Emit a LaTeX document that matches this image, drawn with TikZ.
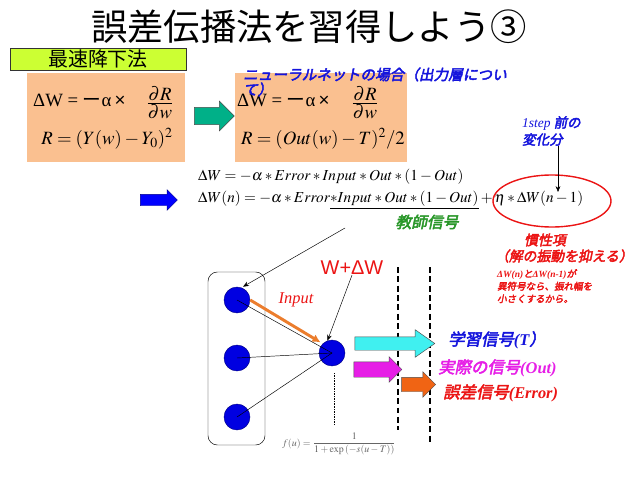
\documentclass[tikz,border=0pt]{standalone}
\usepackage{mathptmx}
\usepackage[no-math]{fontspec}
\setmainfont{Liberation Serif}
\setsansfont{Liberation Sans}
\newfontfamily\jp{Noto Sans CJK JP}
\newfontfamily\jpbi{Noto Sans CJK JP}[FakeSlant=0.2,FakeBold=3]
\usetikzlibrary{positioning,arrows.meta,shapes.arrows,shapes.geometric}
\definecolor{BoxPeach}{RGB}{250,192,144}
\definecolor{TitleLime}{RGB}{204,255,51}
\definecolor{ArrowTeal}{RGB}{0,176,136}
\definecolor{NoteBlue}{RGB}{20,20,220}
\definecolor{NoteRed}{RGB}{235,20,20}
\definecolor{NoteGreen}{RGB}{40,150,40}
\definecolor{NoteMagenta}{RGB}{230,30,230}
\definecolor{SigCyan}{RGB}{64,240,240}
\definecolor{SigOrange}{RGB}{240,100,20}
\definecolor{InputOrange}{RGB}{235,125,45}
\definecolor{NeuronBlue}{RGB}{0,0,225}

\begin{document}
\begin{tikzpicture}[
    x=0.03cm,
    y=-0.03cm,
    >={Stealth[length=5pt,width=4pt]},
    eqbox/.style={
        fill=BoxPeach,
        minimum height=2.67cm,
        inner sep=0pt
    },
    eq/.style={
        font=\fontsize{16}{19}\selectfont,
        inner sep=0pt
    },
    blockarrow/.style={
        single arrow,
        draw=black!70,
        inner xsep=0pt
    },
    neuron/.style={
        circle,
        draw=NeuronBlue!60!black,
        fill=NeuronBlue,
        minimum size=0.78cm,
        inner sep=0pt
    },
    guide/.style={
        line width=1.1pt,
        dash pattern=on 5pt off 3pt
    },
    note/.style={
        font=\jpbi\fontsize{11.8}{12}\selectfont,
        text=NoteRed,
        inner sep=0pt
    },
    signal/.style={
        font=\fontsize{14}{16}\selectfont,
        anchor=west,
        inner sep=0pt
    }
]
\useasboundingbox (0,0) rectangle (638,479);

% title
\node[font=\jp\fontsize{31}{34}\selectfont] (title) at (309,27) {誤差伝播法を習得しよう③};

\node[draw=black!80, fill=TitleLime, minimum width=5.28cm, minimum height=0.66cm, inner sep=0pt,
      font=\jp\fontsize{17}{17}\selectfont] (sdlabel) at (98,59) {最速降下法};

% formula boxes
\node[eqbox, minimum width=4.74cm] (box1) at (106,117.5) {};
\node[eqbox, minimum width=5.16cm] (box2) at (321,117.5) {};

\node[eq, anchor=west] (dw1) at (33,100) {ΔW = {\jp ー}α\,{\sffamily ×}};
\node[eq] (frac1) at (160,103) {$\frac{\textstyle\partial R}{\textstyle\partial w}$};
\node[eq] (rdef1) at (107,139) {$R=(Y(w)-Y_0)^2$};

\node[eq, anchor=west] (dw2) at (237,100) {ΔW = {\jp ー}α\,{\sffamily ×}};
\node[eq] (frac2) at (365,103) {$\frac{\textstyle\partial R}{\textstyle\partial w}$};
\node[eq] (rdef2) at (323,139) {$R=(Out(w)-T)^2/2$};

\node[blockarrow, fill=ArrowTeal, minimum height=1.2cm, inner ysep=0.25cm,
      single arrow head extend=0.19cm] (toNN) at (210,116) {};

\node[font=\jpbi\fontsize{12.5}{12.8}\selectfont, text=NoteBlue, align=left, anchor=base west,
      inner sep=0pt] (nnhead) at (243,95) {ニューラルネットの場合（出力層につい\\て）};

% update rules
\node[font=\fontsize{13}{15}\selectfont, anchor=west, inner sep=0pt] (upd1) at (198,177)
    {$\Delta W=-\alpha\ast Error\ast Input\ast Out\ast\left(1-Out\right)$};
\node[font=\fontsize{13}{15}\selectfont, anchor=west, inner sep=0pt] (upd2) at (198,200)
    {$\Delta W(n)=-\alpha\ast Error\underline{\ast Input\ast Out\ast\left(1-Out\right)}+\eta\ast\Delta W(n-1)$};

\node[blockarrow, fill=blue, draw=blue!55!black, minimum height=1.11cm, inner ysep=0.165cm,
      single arrow head extend=0.135cm] (toRule) at (156,200) {};

\node[font=\jpbi\fontsize{13.4}{14}\selectfont, text=NoteGreen, inner sep=0pt] (teacher) at (427,222) {教師信号};

% inertia term
\node[ellipse, draw=NoteRed, line width=1.2pt, minimum width=3.54cm, minimum height=1.56cm] (inertia) at (552,201) {};

\node[font=\jpbi\fontsize{11.5}{14.5}\selectfont, text=NoteBlue, align=left, anchor=west,
      inner sep=0pt] (prevstep) at (522,131) {{\rmfamily\itshape 1step} 前の\\変化分};
\coordinate (etaTip) at (558,192);
\draw[->] (prevstep.south -| etaTip) -- (etaTip);

\node[note] (inertlabel) at (545,240) {慣性項};
\node[note] (damp) at (564,256) {（解の振動を抑える）};
\node[note, font=\jpbi\fontsize{8.1}{10.7}\selectfont, align=left, anchor=north west] (dampnote) at (497,269)
    {{\rmfamily\bfseries\itshape ΔW(n)}と{\rmfamily\bfseries\itshape ΔW(n-1)}が\\異符号なら、振れ幅を\\小さくするから。};

% network
\node[neuron] (in1) at (237,300) {};
\node[neuron] (in2) at (237,358) {};
\node[neuron] (in3) at (237,417) {};
\node[draw, rounded corners=8pt, minimum width=1.71cm, minimum height=5.19cm] (inlayer) at (236.5,358.5) {};
\node[neuron] (out) at (332,353) {};

\draw (in1.center) -- (out.center);
\draw (in2.center) -- (out.center);
\draw (in3.center) -- (out.center);

\node[text=NoteRed, font=\rmfamily\itshape\fontsize{14}{14}\selectfont] (inlabel) at (296,300) {Input};
\draw[InputOrange, line width=2.5pt, -{Latex[length=7pt,width=7pt]}, shorten >=2pt] (in1.east) -- (out.north west);

\node[text=NoteRed, font=\sffamily\fontsize{17}{17}\selectfont, inner sep=0pt] (wdw) at (352,268) {W+ΔW};
\draw[->] (wdw.south) -- (out.110);

\coordinate (teachStart) at (345,228);
\draw[->, shorten >=1.5pt] (teachStart) -- (in1.70);

\draw[densely dotted] (334,373) -- (334,425);
\draw[guide] (398,267) -- (398,430);
\draw[guide] (430,267) -- (430,445);

% signals
\node[blockarrow, fill=SigCyan, minimum height=2.4cm, inner ysep=0.195cm,
      single arrow head extend=0.21cm, single arrow tip angle=70] (sigT) at (390,343.5) {};
\node[blockarrow, fill=NoteMagenta, minimum height=1.44cm, inner ysep=0.225cm,
      single arrow head extend=0.15cm] (sigOut) at (374,369.5) {};
\node[blockarrow, fill=SigOrange, minimum height=1.02cm, inner ysep=0.21cm,
      single arrow head extend=0.165cm] (sigErr) at (415,384.5) {};

\node[signal, text=NoteBlue] (lblT) at (448,340) {{\jpbi 学習信号}{\rmfamily\bfseries\itshape (T}{\jpbi ）}};
\node[signal, text=NoteMagenta] (lblOut) at (438,368) {{\jpbi 実際の信号}{\rmfamily\bfseries\itshape (Out)}};
\node[signal, text=NoteRed] (lblErr) at (443,393) {{\jpbi 誤差信号}{\rmfamily\bfseries\itshape (Error)}};

\node[text=black!60, font=\fontsize{8.5}{10}\selectfont, inner sep=0pt] (sigmoid) at (339,444)
    {$\displaystyle f(u)=\frac{1}{1+\exp\left(-s(u-T)\right)}$};

\end{tikzpicture}
\end{document}
